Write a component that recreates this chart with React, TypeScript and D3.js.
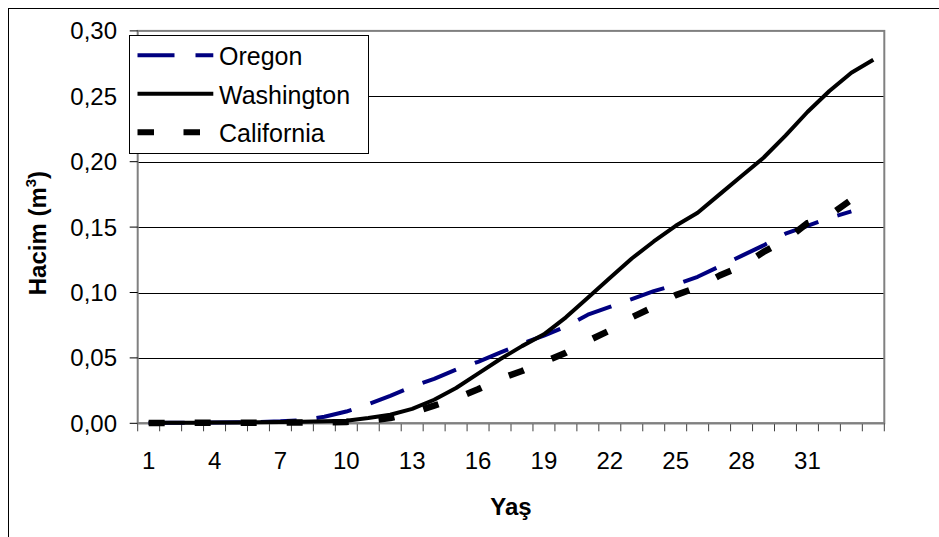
import React from "react";
import * as d3 from "d3";

const ages: number[] = d3.range(1, 35);
const xTickLabels: number[] = [1, 4, 7, 10, 13, 16, 19, 22, 25, 28, 31];
const yTicks: number[] = [0, 0.05, 0.1, 0.15, 0.2, 0.25, 0.3];

const oregon: number[] = [
  0.0003, 0.0004, 0.0005, 0.0006, 0.0008, 0.001, 0.0015, 0.0025, 0.005, 0.009,
  0.0145, 0.021, 0.028, 0.034, 0.041, 0.047, 0.054, 0.061, 0.067, 0.074,
  0.083, 0.089, 0.095, 0.101, 0.106, 0.112, 0.12, 0.128, 0.136, 0.145,
  0.151, 0.157, 0.162,
];
const washington: number[] = [
  0.0005, 0.0005, 0.0005, 0.0006, 0.0007, 0.0008, 0.001, 0.0012, 0.0015, 0.002,
  0.004, 0.0065, 0.011, 0.018, 0.027, 0.038, 0.049, 0.059, 0.068, 0.081,
  0.096, 0.111, 0.126, 0.139, 0.151, 0.161, 0.175, 0.189, 0.203, 0.22,
  0.238, 0.254, 0.268, 0.278,
];
const california: number[] = [
  0.0003, 0.0003, 0.0004, 0.0004, 0.0005, 0.0005, 0.0006, 0.0007, 0.0008, 0.001,
  0.002, 0.004, 0.008, 0.0135, 0.019, 0.026, 0.034, 0.04, 0.047, 0.054,
  0.063, 0.071, 0.081, 0.089, 0.098, 0.104, 0.113, 0.12, 0.131, 0.14,
  0.153, 0.159, 0.171,
];

const seriesNames = ["Oregon", "Washington", "California"];

const W = 939;
const H = 537;
const FONT = '"Liberation Sans", Arial, sans-serif';

export default function App() {
  const left = 137.7;
  const right = 884.3;
  const top = 30.9;
  const bottom = 423.3;

  const x = d3.scaleBand<number>().domain(ages).range([left, right]).padding(0);
  const y = d3.scaleLinear().domain([0, 0.3]).range([bottom, top]);
  const cx = (a: number) => (x(a) as number) + x.bandwidth() / 2;

  const line = d3
    .line<number>()
    .x((_, i) => cx(ages[i]))
    .y((v) => y(v));

  const styles = [
    { stroke: "#000080", width: 4, dash: "36,20" },
    { stroke: "#000000", width: 4, dash: "none" },
    { stroke: "#000000", width: 6.5, dash: "16,30" },
  ];
  const data = [oregon, washington, california];

  const tickBounds = d3.range(0, ages.length + 1).map((i) => left + i * x.bandwidth());

  const legendRows = [56.7, 95.3, 133.7];

  return (
    <svg
      width={W}
      height={H}
      style={{ position: "absolute", left: 0, top: 0, display: "block", background: "#fff" }}
      fontFamily={FONT}
    >
      <rect x={0} y={0} width={W} height={H} fill="#fff" />
      {/* outer frame */}
      <rect x={8.5} y={8.5} width={1200} height={1200} fill="none" stroke="#000" strokeWidth={1} />

      {/* gridlines */}
      {yTicks
        .filter((t) => t > 0 && t < 0.3)
        .map((t) => (
          <line key={"g" + t} x1={left} x2={right} y1={Math.round(y(t)) + 0.5} y2={Math.round(y(t)) + 0.5} stroke="#000" strokeWidth={1} />
        ))}

      {/* plot area border */}
      <rect x={left} y={top} width={right - left} height={bottom - top} fill="none" stroke="#808080" strokeWidth={2} />

      {/* y ticks */}
      {yTicks.map((t) => (
        <g key={"yt" + t}>
          <line x1={129.7} x2={left} y1={y(t)} y2={y(t)} stroke="#000" strokeWidth={1} />
          <text x={117} y={y(t)} dy="0.35em" textAnchor="end" fontSize={24} fill="#000">
            {d3.format(".2f")(t).replace(".", ",")}
          </text>
        </g>
      ))}

      {/* x ticks */}
      {tickBounds.map((b, i) => (
        <line key={"xt" + i} x1={b} x2={b} y1={bottom} y2={bottom + 8} stroke="#404040" strokeWidth={1} />
      ))}
      <line x1={left} x2={right} y1={bottom} y2={bottom} stroke="#808080" strokeWidth={2} />
      {xTickLabels.map((a) => (
        <text key={"xl" + a} x={cx(a)} y={469} textAnchor="middle" fontSize={24} fill="#000">
          {a}
        </text>
      ))}

      {/* series */}
      {data.map((d, i) => (
        <path
          key={"s" + i}
          d={line(d) as string}
          fill="none"
          stroke={styles[i].stroke}
          strokeWidth={styles[i].width}
          strokeDasharray={styles[i].dash}
          strokeLinejoin="round"
        />
      ))}

      {/* axis titles */}
      <text x={(left + right) / 2} y={515} textAnchor="middle" fontSize={24} fontWeight="bold" fill="#000">
        Yaş
      </text>
      <text
        transform={`translate(46, ${(top + bottom) / 2 + 6}) rotate(-90)`}
        textAnchor="middle"
        fontSize={24}
        fontWeight="bold"
        fill="#000"
      >
        Hacim (m<tspan fontSize={15} dy={-10}>3</tspan>
        <tspan dy={10}>)</tspan>
      </text>

      {/* legend */}
      <rect x={129.5} y={35.5} width={239} height={118} fill="#fff" stroke="#000" strokeWidth={1} />
      {seriesNames.map((n, i) => (
        <g key={"lg" + n}>
          <line
            x1={137.5}
            x2={213.3}
            y1={legendRows[i] - 1.5}
            y2={legendRows[i] - 1.5}
            stroke={styles[i].stroke}
            strokeWidth={i === 2 ? 6 : 4}
            strokeDasharray={i === 0 ? "37,21" : i === 2 ? "16.5,29.5" : "none"}
          />
          <text x={219} y={legendRows[i]} dy="0.35em" fontSize={25} fill="#000">
            {n}
          </text>
        </g>
      ))}
    </svg>
  );
}
